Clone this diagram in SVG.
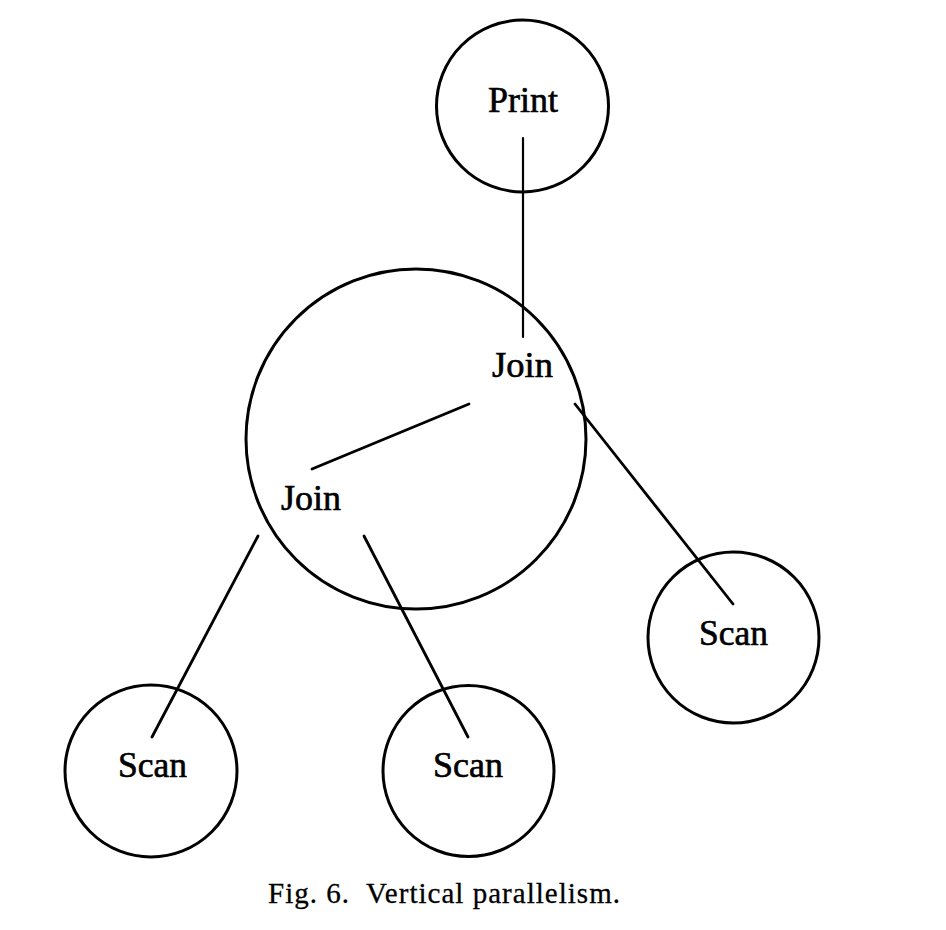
<svg xmlns="http://www.w3.org/2000/svg" width="946" height="930" viewBox="0 0 946 930">
<style>
.node{fill:none;stroke:#000;stroke-width:3}
.lbl{font-family:"Liberation Serif","Times New Roman",serif;font-size:35px;fill:#000;stroke:#000;stroke-width:0.6;text-anchor:middle}
.edge{stroke:#000;stroke-width:2.8;stroke-linecap:round;fill:none}
.cap{font-family:"Liberation Serif","Times New Roman",serif;font-size:29px;fill:#000;stroke:#000;stroke-width:0.3}
</style>
<rect width="946" height="930" fill="#fff"/>
<g id="connectors">
<line class="edge" x1="523" y1="138" x2="523" y2="337" style="stroke-width:2.2"/>
<line class="edge" x1="469" y1="404" x2="312" y2="469"/>
<line class="edge" x1="575" y1="404" x2="733" y2="604"/>
<line class="edge" x1="258" y1="536" x2="152" y2="737"/>
<line class="edge" x1="364" y1="536" x2="468" y2="737"/>
</g>
<g id="print">
<circle class="node" cx="522.5" cy="106" r="86"/>
<text class="lbl" x="523" y="112" textLength="70" lengthAdjust="spacingAndGlyphs">Print</text>
</g>
<g id="join-group">
<circle class="node" cx="416" cy="439" r="170"/>
</g>
<g id="join-upper">
<text class="lbl" x="522.5" y="377" textLength="61" lengthAdjust="spacingAndGlyphs">Join</text>
</g>
<g id="join-lower">
<text class="lbl" x="311" y="510" textLength="60" lengthAdjust="spacingAndGlyphs">Join</text>
</g>
<g id="scan-right">
<circle class="node" cx="733.5" cy="637.5" r="85.5"/>
<text class="lbl" x="733.5" y="645" textLength="69" lengthAdjust="spacingAndGlyphs">Scan</text>
</g>
<g id="scan-left">
<circle class="node" cx="151" cy="771" r="86"/>
<text class="lbl" x="152.5" y="777" textLength="69" lengthAdjust="spacingAndGlyphs">Scan</text>
</g>
<g id="scan-middle">
<circle class="node" cx="468.5" cy="771" r="85.5"/>
<text class="lbl" x="468" y="777" textLength="70" lengthAdjust="spacingAndGlyphs">Scan</text>
</g>
<text class="cap" x="268" y="903" textLength="352" lengthAdjust="spacing" xml:space="preserve">Fig. 6.  Vertical parallelism.</text>
</svg>
